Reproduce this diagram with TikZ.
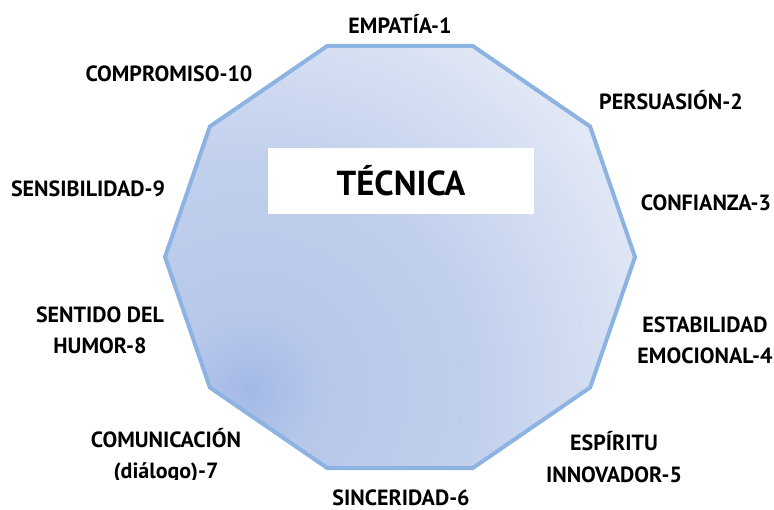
\documentclass[tikz,border=0pt]{standalone}
\usepackage{fontspec}
\setmainfont{PT Sans}
\definecolor{edge}{HTML}{8DB3E2}
\definecolor{sA}{HTML}{A3B9E6}
\definecolor{sB}{HTML}{B6C7EA}
\definecolor{sC}{HTML}{C0CFEC}
\definecolor{sD}{HTML}{E3E9F6}
\pgfdeclareradialshading{decashade}{\pgfpoint{0bp}{0bp}}{color(0bp)=(sA); color(4bp)=(sB); color(13bp)=(sC); color(25bp)=(sD); color(50bp)=(sD)}
\begin{document}
\begin{tikzpicture}[x=0.75pt,y=-0.75pt,
  lab/.style={font=\fontsize{16.5}{23.5}\selectfont\bfseries, align=center, inner sep=0pt, text=black},
  ttl/.style={font=\fontsize{26}{30}\selectfont\bfseries, text=black}]
\useasboundingbox (0,0) rectangle (774,510);
\clip (0,0) rectangle (774,510);
% decagon
\foreach \i/\a in {1/108,2/72,3/36,4/0,5/-36,6/-72,7/-108,8/-144,9/180,10/144}{
  \coordinate (v\i) at ({400+235*cos(\a)},{257-222*sin(\a)});
}
\begin{scope}
\clip (v1)--(v2)--(v3)--(v4)--(v5)--(v6)--(v7)--(v8)--(v9)--(v10)--cycle;
\shade[shading=decashade] (250,390) circle (430);
\end{scope}
\draw[edge, line width=3pt, line join=miter] (v1)--(v2)--(v3)--(v4)--(v5)--(v6)--(v7)--(v8)--(v9)--(v10)--cycle;
% title box
\node[fill=white, minimum width=199.5pt, minimum height=49.5pt, inner sep=0pt] (box) at (401,181) {};
\node[ttl] (title) at (box.center) {TÉCNICA};
% labels
\node[lab] (l1) at (400,24) {EMPATÍA-1};
\node[lab] (l2) at (671,100) {PERSUASIÓN-2};
\node[lab] (l3) at (706,203) {CONFIANZA-3};
\node[lab] (l4) at (705,340) {ESTABILIDAD\\EMOCIONAL-4};
\node[lab] (l5) at (614,457) {ESPÍRITU\\INNOVADOR-5};
\node[lab] (l6) at (401,498) {SINCERIDAD-6};
\begin{scope}
\clip (0,0) rectangle (774,479);
\node[lab] (l7) at (166,456) {COMUNICACIÓN\\(diálogo)-7};
\end{scope}
\node[lab] (l8) at (100,330) {SENTIDO DEL\\HUMOR-8};
\node[lab] (l9) at (88,189) {SENSIBILIDAD-9};
\node[lab] (l10) at (169,74) {COMPROMISO-10};
\end{tikzpicture}
\end{document}
